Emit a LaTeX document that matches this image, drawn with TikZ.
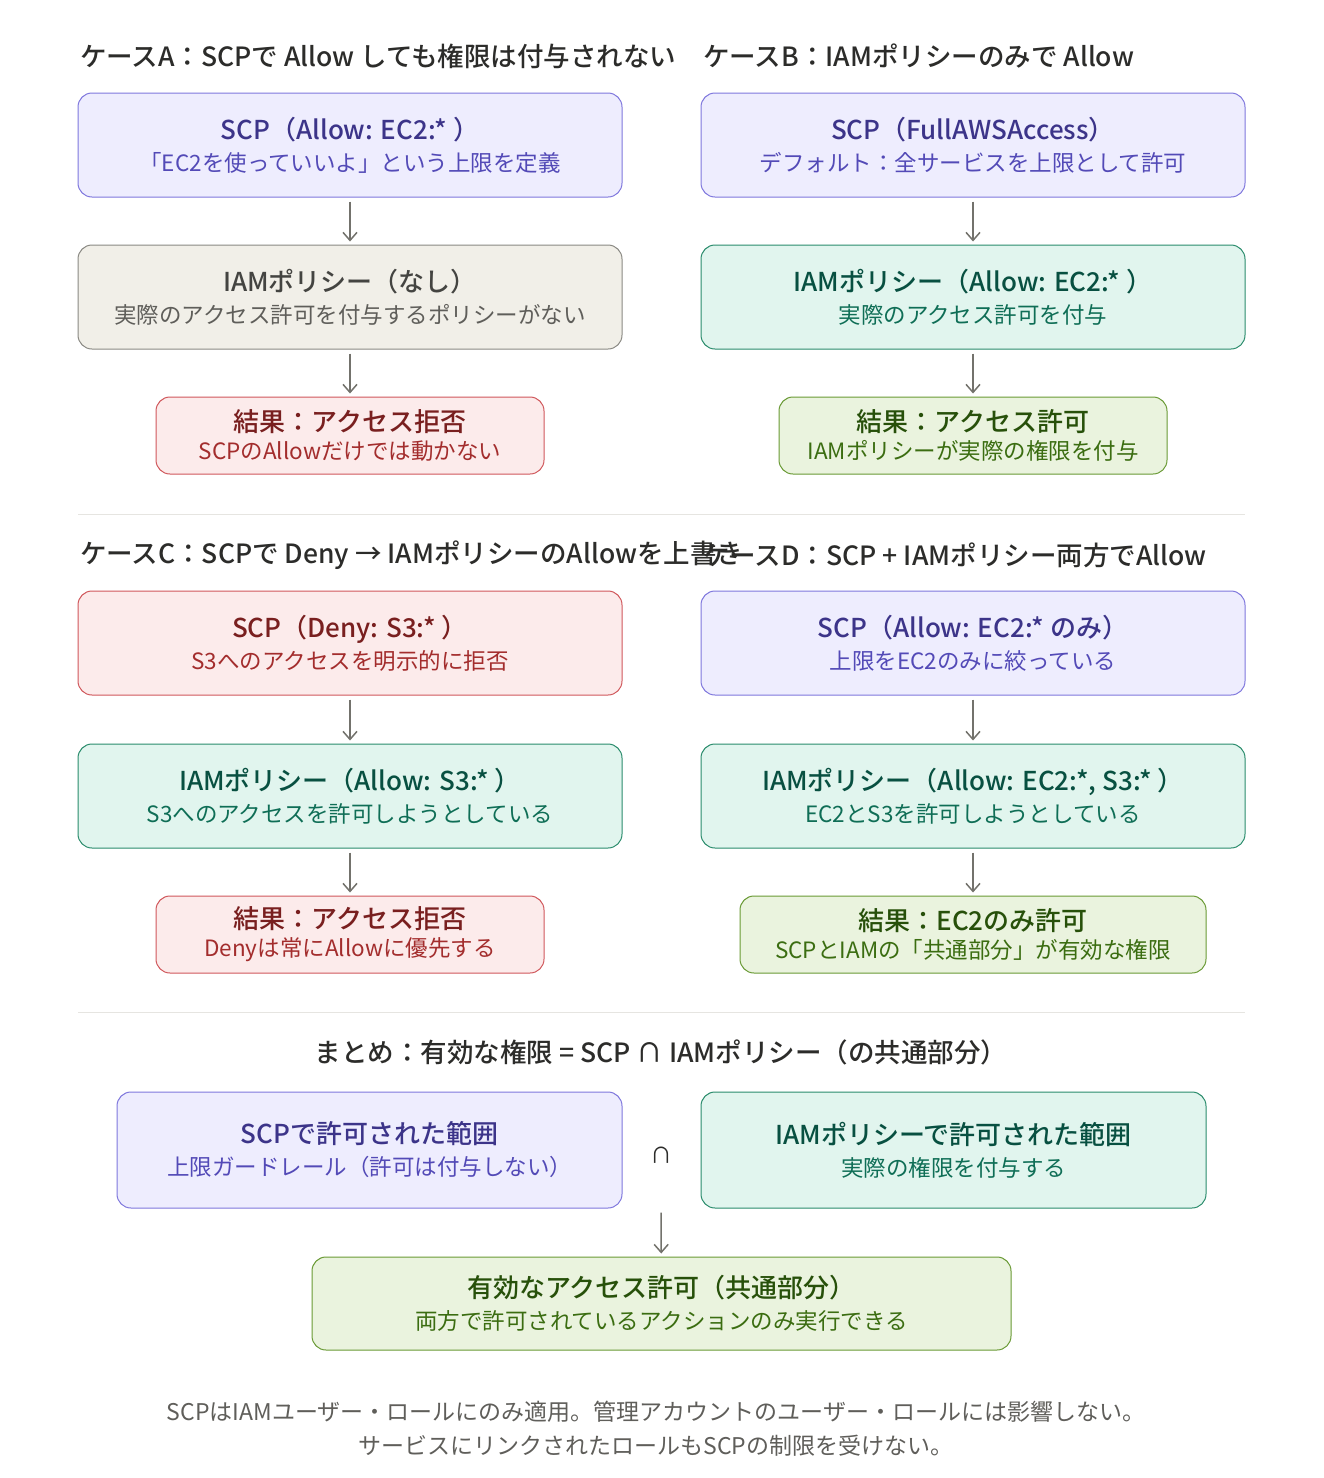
\documentclass[tikz,border=0pt]{standalone}
\usepackage{fontspec}
\setmainfont{Noto Sans CJK JP}[BoldFont={Noto Sans CJK JP Medium}]
\usepackage{xcolor}
\usepackage{tikz}
\usetikzlibrary{positioning,arrows.meta}
\definecolor{puF}{HTML}{EEEDFE}\definecolor{puD}{HTML}{7F77DD}\definecolor{puT}{HTML}{3C3489}\definecolor{puS}{HTML}{534AB7}
\definecolor{grF}{HTML}{F1EFE8}\definecolor{grD}{HTML}{8A8983}\definecolor{grT}{HTML}{444441}\definecolor{grS}{HTML}{5F5E5A}
\definecolor{rdF}{HTML}{FCEBEB}\definecolor{rdD}{HTML}{D0575B}\definecolor{rdT}{HTML}{791F1F}\definecolor{rdS}{HTML}{A32D2D}
\definecolor{tlF}{HTML}{E1F5EE}\definecolor{tlD}{HTML}{2A8C6C}\definecolor{tlT}{HTML}{085041}\definecolor{tlS}{HTML}{0F6E56}
\definecolor{gnF}{HTML}{EAF3DE}\definecolor{gnD}{HTML}{6A9A35}\definecolor{gnT}{HTML}{27500A}\definecolor{gnS}{HTML}{3B6D11}
\definecolor{arcol}{HTML}{73726C}\definecolor{hdcol}{HTML}{2C2C2A}\definecolor{sepcol}{HTML}{E6E5E1}
\newcommand{\boxtxt}[4]{{\color{#1}\fontsize{26}{32}\selectfont\bfseries #3}\\{\color{#2}#4}}

\begin{document}
\begin{tikzpicture}[x=1pt,y=-1pt,
 box/.style={draw,line width=1pt,rounded corners=14pt,align=center,inner sep=0pt,minimum width=544pt,minimum height=104pt,font=\fontsize{22.5}{32}\selectfont},
 res/.style={box,minimum width=388pt,minimum height=77pt,font=\fontsize{22.5}{28}\selectfont},
 pu/.style={fill=puF,draw=puD}, gr/.style={fill=grF,draw=grD}, rd/.style={fill=rdF,draw=rdD},
 tl/.style={fill=tlF,draw=tlD}, gn/.style={fill=gnF,draw=gnD},
 head/.style={anchor=west,inner sep=0pt,text=hdcol,font=\fontsize{26.5}{30}\selectfont\bfseries},
 arr/.style={draw=arcol,line width=1.5pt,-{Straight Barb[length=8pt,width=14pt]},shorten <=4pt,shorten >=3pt}]
\fill[white] (0,0) rectangle (1324,1478);
\useasboundingbox (0,0) rectangle (1324,1478);
\node[head] (hA) at (80,56) {ケースA：SCPで Allow しても権限は付与されない};
\node[head] (hB) at (703,56) {ケースB：IAMポリシーのみで Allow};
\node[box,pu] (a1) at (350,145) {\boxtxt{puT}{puS}{SCP（Allow: EC2:* ）}{「EC2を使っていいよ」という上限を定義}};
\node[box,gr,below=47pt of a1] (a2) {\boxtxt{grT}{grS}{IAMポリシー（なし）}{実際のアクセス許可を付与するポリシーがない}};
\node[res,rd,below=47pt of a2] (a3) {\boxtxt{rdT}{rdS}{結果：アクセス拒否}{SCPのAllowだけでは動かない}};
\node[box,pu] (b1) at (973,145) {\boxtxt{puT}{puS}{SCP（FullAWSAccess）}{デフォルト：全サービスを上限として許可}};
\node[box,tl,below=47pt of b1] (b2) {\boxtxt{tlT}{tlS}{IAMポリシー（Allow: EC2:* ）}{実際のアクセス許可を付与}};
\node[res,gn,below=47pt of b2] (b3) {\boxtxt{gnT}{gnS}{結果：アクセス許可}{IAMポリシーが実際の権限を付与}};
\draw[sepcol,line width=1pt] (78,514) -- (1245,514);
\node[head] (hC) at (80,555) {ケースC：SCPで Deny → IAMポリシーのAllowを上書き};
\node[head] (hD) at (703,555) {ケースD：SCP + IAMポリシー両方でAllow};
\node[box,rd] (c1) at (350,643) {\boxtxt{rdT}{rdS}{SCP（Deny: S3:* ）}{S3へのアクセスを明示的に拒否}};
\node[box,tl,below=48pt of c1] (c2) {\boxtxt{tlT}{tlS}{IAMポリシー（Allow: S3:* ）}{S3へのアクセスを許可しようとしている}};
\node[res,rd,below=47pt of c2] (c3) {\boxtxt{rdT}{rdS}{結果：アクセス拒否}{Denyは常にAllowに優先する}};
\node[box,pu] (d1) at (973,643) {\boxtxt{puT}{puS}{SCP（Allow: EC2:* のみ）}{上限をEC2のみに絞っている}};
\node[box,tl,below=48pt of d1] (d2) {\boxtxt{tlT}{tlS}{IAMポリシー（Allow: EC2:*, S3:* ）}{EC2とS3を許可しようとしている}};
\node[res,gn,minimum width=466pt,below=47pt of d2] (d3) {\boxtxt{gnT}{gnS}{結果：EC2のみ許可}{SCPとIAMの「共通部分」が有効な権限}};
\draw[sepcol,line width=1pt] (78,1012) -- (1245,1012);
\node[head,anchor=center] (hS) at (661,1052) {まとめ：有効な権限 = SCP ∩ IAMポリシー（の共通部分）};
\node[box,pu,minimum width=505pt,minimum height=116pt] (sL) at (369.5,1150) {\boxtxt{puT}{puS}{SCPで許可された範囲}{上限ガードレール（許可は付与しない）}};
\node[box,tl,minimum width=505pt,minimum height=116pt] (sR) at (953.5,1150) {\boxtxt{tlT}{tlS}{IAMポリシーで許可された範囲}{実際の権限を付与する}};
\node[text=hdcol,font=\fontsize{22}{26}\selectfont] (cap) at (661,1155) {∩};
\node[box,gn,minimum width=699pt,minimum height=93pt] (eff) at (661.5,1303.5) {\boxtxt{gnT}{gnS}{有効なアクセス許可（共通部分）}{両方で許可されているアクションのみ実行できる}};
\node[align=center,text=grS,font=\fontsize{23}{34}\selectfont] (note) at (656,1429) {SCPはIAMユーザー・ロールにのみ適用。管理アカウントのユーザー・ロールには影響しない。\\サービスにリンクされたロールもSCPの制限を受けない。};
\foreach \u/\v in {a1/a2,a2/a3,b1/b2,b2/b3,c1/c2,c2/c3,d1/d2,d2/d3}{\draw[arr] (\u) -- (\v);}
\draw[arr] (cap |- sL.south) -- (eff);
\end{tikzpicture}
\end{document}
